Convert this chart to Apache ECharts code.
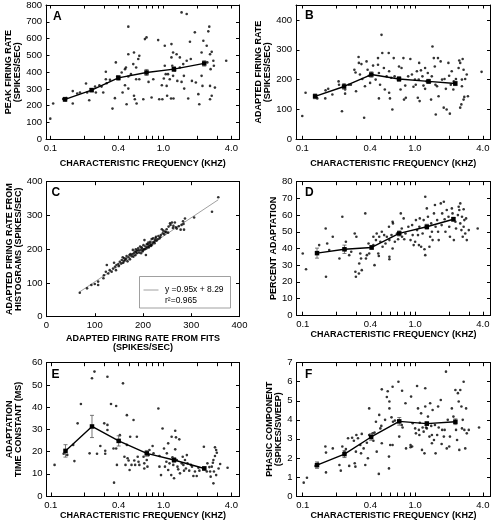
<!DOCTYPE html>
<html><head><meta charset="utf-8">
<script src="https://cdn.jsdelivr.net/npm/echarts@6/dist/echarts.min.js"></script>
<style>html,body{margin:0;padding:0;background:#fff}#chart{width:493px;height:523px}</style>
</head><body><div id="chart"></div>
<script>
// ---------- tick labels ----------
const freqTicks = [0.1,0.2,0.3,0.4,0.5,0.6,0.7,0.8,0.9,1,2,3,4];
const freqLabels = [0.1,0.4,1.0,4.0];
const ticksA = [0,100,200,300,400,500,600,700,800];
const ticksB = [0,100,200,300,400];
const ticksC = [0,100,200,300,400];
const ticksD = [0,10,20,30,40,50,60,70,80];
const ticksE = [0,10,20,30,40,50,60];
const ticksF = [0,1,2,3,4,5,6,7];

// ---------- data: [CF (kHz), value] ----------
const peakRate = [[0.100,123],[0.106,213],[0.130,240],[0.136,232],[0.139,245],[0.158,287],[0.158,213],[0.173,273],[0.183,279],[0.207,332],[0.212,279],[0.221,233],[0.232,289],[0.249,314],[0.253,279],[0.272,322],[0.284,314],[0.294,279],[0.310,402],[0.310,358],[0.315,334],[0.337,354],[0.355,183],[0.373,245],[0.380,458],[0.391,374],[0.405,370],[0.428,398],[0.436,279],[0.458,322],[0.458,418],[0.467,428],[0.473,209],[0.49,671],[0.49,507],[0.49,374],[0.49,302],[0.517,388],[0.542,448],[0.55,517],[0.55,259],[0.56,239],[0.575,428],[0.58,213],[0.575,358],[0.60,478],[0.613,497],[0.613,358],[0.665,239],[0.687,597],[0.71,607],[0.71,394],[0.74,342],[0.787,249],[0.815,358],[0.90,591],[0.92,239],[0.97,322],[0.98,239],[1.01,362],[1.03,557],[1.03,438],[1.05,388],[1.07,318],[1.08,259],[1.10,388],[1.14,358],[1.17,243],[1.18,567],[1.18,488],[1.2,438],[1.22,517],[1.22,378],[1.23,243],[1.27,408],[1.31,507],[1.33,348],[1.40,488],[1.40,428],[1.45,756],[1.45,342],[1.50,448],[1.52,378],[1.53,302],[1.61,746],[1.61,468],[1.66,243],[1.72,581],[1.75,478],[1.79,348],[1.90,637],[1.94,338],[2.04,269],[2.08,209],[2.18,517],[2.18,378],[2.22,318],[2.26,587],[2.28,454],[2.42,557],[2.45,458],[2.55,671],[2.5,643],[2.59,507],[2.62,418],[2.59,318],[2.59,239],[2.68,521],[2.68,259],[2.77,468],[2.8,438],[2.86,308],[3.6,468]];
const peakMeans = [[0.135,238,12],[0.232,293,10],[0.40,366,14],[0.71,398,18],[1.24,418,14],[2.3,452,16]];

const adaptRate = [[0.100,78],[0.107,156],[0.133,141],[0.136,137],[0.16,137],[0.161,164],[0.17,169],[0.185,150],[0.21,194],[0.212,183],[0.225,94],[0.235,183],[0.24,167],[0.24,153],[0.259,183],[0.27,183],[0.29,233],[0.297,224],[0.30,161],[0.316,276],[0.318,256],[0.325,217],[0.335,252],[0.341,202],[0.354,72],[0.36,178],[0.372,261],[0.38,233],[0.39,213],[0.40,189],[0.425,247],[0.448,200],[0.47,272],[0.47,250],[0.479,137],[0.479,222],[0.49,183],[0.505,350],[0.513,289],[0.53,239],[0.54,167],[0.56,211],[0.585,289],[0.59,228],[0.59,156],[0.60,137],[0.616,206],[0.63,100],[0.648,272],[0.66,211],[0.722,244],[0.745,167],[0.76,239],[0.79,272],[0.80,133],[0.82,180],[0.83,139],[0.87,211],[0.91,269],[0.94,217],[0.97,176],[1.0,200],[1.016,183],[1.04,228],[1.06,139],[1.08,200],[1.09,256],[1.10,128],[1.13,231],[1.165,211],[1.19,180],[1.23,239],[1.23,169],[1.27,194],[1.30,222],[1.36,191],[1.39,133],[1.41,211],[1.43,311],[1.47,272],[1.50,244],[1.52,183],[1.53,83],[1.57,178],[1.60,272],[1.62,144],[1.69,261],[1.74,200],[1.80,106],[1.83,202],[1.88,169],[1.91,100],[1.98,256],[2.01,213],[2.04,86],[2.08,183],[2.12,228],[2.19,167],[2.21,194],[2.31,202],[2.44,239],[2.47,264],[2.52,256],[2.52,106],[2.58,117],[2.61,200],[2.61,178],[2.65,269],[2.70,233],[2.70,133],[2.74,142],[2.79,202],[2.88,217],[2.95,144],[3.9,226]];
const adaptMeans = [[0.13,144,8],[0.235,177,9],[0.41,217,9],[0.722,202,8],[1.32,194,7],[2.28,187,7]];

// panel C: [from fits, from histograms]
const fitVsHist = [[69,71],[84,84],[93,94],[100,97],[107,94],[107,104],[118,114],[119,123],[123,133],[125,153],[128,128],[131,138],[135,133],[138,143],[140,160],[142,148],[144,138],[145,153],[149,156],[152,163],[156,168],[158,176],[159,160],[161,173],[163,168],[166,180],[170,176],[172,183],[173,170],[174,186],[176,180],[179,198],[180,178],[181,188],[183,193],[185,200],[187,188],[188,196],[190,203],[192,190],[194,208],[195,198],[197,206],[199,193],[201,212],[202,200],[203,227],[205,208],[206,183],[208,215],[209,206],[211,220],[213,209],[215,222],[216,212],[218,230],[220,220],[221,232],[223,222],[225,227],[227,237],[228,225],[232,239],[234,232],[237,242],[239,259],[241,247],[242,255],[246,252],[249,259],[253,267],[256,277],[257,272],[260,279],[263,269],[266,279],[268,265],[270,261],[280,272],[284,275],[285,258],[287,291],[306,294],[343,311],[356,354],[150,150],[155,158],[160,165],[165,172],[168,164],[178,185],[184,182],[186,192],[191,197],[196,188],[198,202],[200,196],[204,200],[207,202],[210,214],[212,205],[214,217],[217,210],[219,214],[224,218],[226,233],[230,229],[236,236],[244,244],[248,250],[252,249],[262,263],[274,268],[278,258],[283,283]];
const fitSlope = 0.95, fitIntercept = 8.29, fitRange = [68, 356];

const pctAdapt = [[0.1,37],[0.107,27.5],[0.14,42],[0.16,52],[0.161,23],[0.165,43],[0.172,39],[0.185,47],[0.212,34],[0.225,59],[0.24,39],[0.242,44],[0.259,36],[0.27,38],[0.29,49],[0.294,26],[0.297,23],[0.30,47],[0.316,25],[0.318,31],[0.325,37],[0.33,34],[0.335,27],[0.36,61],[0.365,34],[0.372,36],[0.385,43],[0.39,37],[0.425,47],[0.425,42],[0.435,30],[0.448,45],[0.455,49],[0.47,37],[0.475,35.5],[0.479,47],[0.49,44],[0.505,50],[0.513,41],[0.53,48],[0.545,43],[0.56,47],[0.585,53],[0.59,45],[0.59,35],[0.59,33.5],[0.616,48],[0.63,40],[0.63,56],[0.635,55],[0.66,44],[0.69,49],[0.705,45.5],[0.745,61],[0.76,52],[0.765,47],[0.79,58],[0.80,45.5],[0.82,49],[0.87,53],[0.91,45],[0.94,54],[0.95,48],[0.97,42],[1.0,44],[1.016,57],[1.04,51],[1.06,48],[1.08,42],[1.09,53],[1.10,58],[1.13,41],[1.165,49],[1.19,57],[1.21,39.5],[1.23,71],[1.23,36],[1.25,53],[1.27,64],[1.30,59],[1.34,41],[1.36,47],[1.39,55],[1.41,50],[1.43,45],[1.47,61],[1.50,66],[1.52,53],[1.57,57],[1.60,50],[1.62,45],[1.69,67],[1.72,54],[1.74,61],[1.80,68],[1.83,57.5],[1.86,50],[1.91,63],[1.98,59],[2.01,53],[2.04,47],[2.12,64],[2.15,61],[2.21,45],[2.28,56],[2.31,52],[2.40,60],[2.44,65],[2.47,63],[2.52,67],[2.52,55],[2.58,51],[2.61,59],[2.65,47],[2.70,53],[2.70,63.5],[2.74,57],[2.79,49],[2.84,58],[2.88,45],[3.0,51],[3.6,52]];
const pctMeans = [[0.134,37.2,3],[0.235,39.5,2.5],[0.41,40.6,1.2],[0.722,49,1.5],[1.27,53,1.5],[2.19,57.5,1.2]];

const tauAdapt = [[0.108,14],[0.13,19],[0.14,18.5],[0.158,23],[0.162,15.7],[0.173,32.7],[0.185,41.4],[0.221,19.2],[0.232,53],[0.244,56],[0.257,19],[0.275,22.5],[0.298,32.7],[0.304,20.4],[0.304,19],[0.318,32],[0.318,29.7],[0.318,53.7],[0.342,41.4],[0.36,21.4],[0.364,6],[0.38,21.4],[0.38,40.5],[0.386,14],[0.41,27.4],[0.437,50.7],[0.45,17.7],[0.46,14],[0.473,36.4],[0.473,23],[0.48,17],[0.49,16],[0.50,11.7],[0.506,26.7],[0.52,14],[0.542,34.2],[0.55,16],[0.56,14],[0.58,26.7],[0.59,17.7],[0.60,15.4],[0.61,14],[0.665,17.7],[0.675,14.7],[0.675,12.4],[0.71,16.2],[0.72,13.2],[0.74,18.4],[0.75,20.7],[0.80,22.5],[0.815,19.2],[0.90,39.4],[0.92,18],[0.92,13.2],[0.95,9.4],[0.98,30.4],[1.01,21.4],[1.03,13.2],[1.06,15.4],[1.07,19.2],[1.10,23.7],[1.10,11.7],[1.13,14.7],[1.17,9.4],[1.18,26.7],[1.20,17.4],[1.22,14],[1.24,8],[1.27,29.4],[1.27,21],[1.29,26.4],[1.31,16.2],[1.33,13.2],[1.35,12],[1.38,25.5],[1.40,10.2],[1.45,14.7],[1.48,17.7],[1.50,14],[1.52,11.4],[1.55,16.2],[1.58,12.4],[1.61,18.4],[1.63,14.7],[1.69,11.4],[1.75,14],[1.79,13.2],[1.84,9],[1.90,11],[1.97,9],[2.04,12.7],[2.08,11.4],[2.26,12.4],[2.28,22.2],[2.42,11],[2.45,14.7],[2.55,13],[2.59,11],[2.62,8.7],[2.68,13.2],[2.74,15],[2.77,16.2],[2.77,5.7],[2.80,11],[2.86,18],[2.86,21.9],[2.93,20.7],[2.93,9.4],[2.97,19.5],[3.08,12.4],[3.18,14.4],[3.7,12.7]];
const tauMeans = [[0.135,20.3,2.8],[0.232,31.3,5],[0.40,24.8,2.3],[0.71,19.2,1.3],[1.24,16.2,1],[2.3,12.4,0.8]];

const phasic = [[0.102,0.7],[0.109,0.96],[0.13,1.58],[0.137,1.7],[0.159,2.6],[0.161,2.28],[0.161,1.24],[0.185,2.5],[0.212,1.63],[0.218,1.33],[0.225,2.6],[0.235,2.33],[0.242,2.47],[0.253,3.03],[0.259,1.58],[0.275,3.06],[0.285,2.9],[0.29,1.72],[0.294,1.54],[0.297,2.33],[0.30,3.2],[0.31,3.03],[0.325,2.68],[0.33,2.24],[0.335,3.26],[0.348,2.5],[0.36,1.63],[0.372,2.8],[0.38,1.98],[0.39,4.6],[0.39,3.2],[0.418,3.29],[0.425,2.9],[0.435,3.33],[0.448,3.9],[0.455,2.33],[0.475,1.16],[0.479,4.26],[0.49,3.55],[0.50,3.68],[0.505,2.77],[0.505,5.6],[0.54,4.0],[0.56,5.2],[0.57,5.5],[0.585,2.07],[0.585,1.45],[0.59,4.96],[0.59,4.6],[0.60,2.68],[0.616,4.13],[0.63,5.74],[0.635,3.9],[0.63,2.68],[0.66,3.96],[0.71,6.0],[0.722,3.12],[0.76,3.73],[0.765,5.53],[0.773,3.6],[0.82,4.87],[0.83,2.5],[0.91,2.68],[0.91,2.56],[0.92,5.22],[0.94,2.6],[0.95,3.82],[1.0,3.55],[1.016,3.29],[1.04,5.78],[1.06,4.6],[1.08,3.47],[1.09,3.2],[1.10,3.85],[1.13,4.34],[1.15,2.42],[1.165,3.6],[1.19,3.38],[1.21,2.24],[1.23,5.66],[1.23,4.7],[1.25,3.6],[1.27,3.55],[1.30,4.17],[1.34,3.12],[1.36,4.87],[1.39,3.68],[1.41,2.77],[1.41,3.2],[1.43,4.52],[1.47,2.94],[1.50,3.73],[1.52,2.24],[1.57,3.2],[1.60,4.7],[1.62,3.6],[1.69,5.04],[1.72,2.73],[1.74,3.47],[1.80,3.12],[1.83,3.47],[1.88,6.53],[1.91,2.5],[1.95,4.0],[2.01,2.6],[2.04,3.12],[2.12,4.6],[2.19,4.17],[2.28,5.57],[2.31,3.47],[2.36,2.94],[2.40,5.4],[2.44,4.96],[2.47,2.42],[2.52,5.57],[2.58,4.7],[2.61,3.55],[2.65,4.0],[2.70,6.0],[2.74,3.47],[2.79,2.5],[2.84,4.6],[2.88,3.29],[3.0,3.47],[3.7,3.6]];
const phasicMeans = [[0.134,1.62,0.17],[0.235,2.2,0.18],[0.406,3.1,0.17],[0.722,3.92,0.2],[1.27,3.8,0.1],[2.28,3.9,0.15]];

// ---------- styling / layout ----------
const FONT = '"Liberation Sans", Arial, Helvetica, sans-serif';
const titleStyle = {fontSize:9, fontWeight:'bold', fontFamily:FONT, color:'#000', lineHeight:9};
const labelStyle = {fontSize:9.5, fontFamily:FONT, color:'#000'};
const CF_NAME = 'CHARACTERISTIC FREQUENCY (KHZ)';
const fmtFreq = v => Number(v).toFixed(1);

const panels = [
 {letter:'A', grid:{left:46, top:5, width:193.5, height:134.3}, xType:'log', xMin:0.0916, xMax:4.72, xTicks:freqTicks, xLabels:freqLabels, xFmt:fmtFreq,
  yMin:0, yMax:800, yTicks:ticksA, xName:CF_NAME, xGap:19.5, yName:'PEAK FIRING RATE\n(SPIKES/SEC)', yGap:23, points:peakRate, means:peakMeans, lx:53, ly:17.5},
 {letter:'B', grid:{left:296, top:5, width:194.5, height:134.3}, xType:'log', xMin:0.088, xMax:4.68, xTicks:freqTicks, xLabels:freqLabels, xFmt:fmtFreq,
  yMin:0, yMax:450, yTicks:ticksB, xName:CF_NAME, xGap:19.5, yName:'ADAPTED FIRING RATE\n(SPIKES/SEC)', yGap:18, points:adaptRate, means:adaptMeans, lx:305, ly:17},
 {letter:'C', grid:{left:46.5, top:181.7, width:193, height:135}, xType:'value', xMin:0, xMax:400, xTicks:ticksC, xLabels:ticksC, xFmt:null,
  yMin:0, yMax:400, yTicks:ticksC, xName:'ADAPTED FIRING RATE FROM FITS\n(SPIKES/SEC)', xGap:17, yName:'ADAPTED FIRING RATE FROM\nHISTOGRAMS (SPIKES/SEC)', yGap:23, points:fitVsHist, means:null, lx:51.5, ly:194},
 {letter:'D', grid:{left:296.5, top:181.7, width:194, height:133.5}, xType:'log', xMin:0.088, xMax:4.68, xTicks:freqTicks, xLabels:freqLabels, xFmt:fmtFreq,
  yMin:0, yMax:80, yTicks:ticksD, xName:CF_NAME, xGap:13.6, yName:'PERCENT ADAPTATION', yGap:17, points:pctAdapt, means:pctMeans, lx:305, ly:194},
 {letter:'E', grid:{left:46.5, top:362.7, width:193, height:133.3}, xType:'log', xMin:0.0916, xMax:4.72, xTicks:freqTicks, xLabels:freqLabels, xFmt:fmtFreq,
  yMin:0, yMax:60, yTicks:ticksE, xName:CF_NAME, xGap:14.5, yName:'ADAPTATION\nTIME CONSTANT (MS)', yGap:23, points:tauAdapt, means:tauMeans, lx:51.5, ly:375.5},
 {letter:'F', grid:{left:296.5, top:362.7, width:194, height:133.3}, xType:'log', xMin:0.088, xMax:4.68, xTicks:freqTicks, xLabels:freqLabels, xFmt:fmtFreq,
  yMin:0, yMax:7, yTicks:ticksF, xName:CF_NAME, xGap:14.5, yName:'PHASIC COMPONENT\n(SPIKES/SWEEP)', yGap:13.7, points:phasic, means:phasicMeans, lx:305, ly:375.5}
];

const axisLine = {show:true, onZero:false, lineStyle:{color:'#000', width:1}};
function tickCfg(values){ return {show:true, inside:true, length:3.5, customValues:values, lineStyle:{color:'#000', width:1}}; }

function errRender(params, api){
  const x = api.value(0), m = api.value(1), e = api.value(2);
  const t = api.coord([x, m + e]), b = api.coord([x, m - e]);
  const w = 2, st = {stroke:'#555', lineWidth:0.8};
  return {type:'group', children:[
    {type:'line', shape:{x1:t[0], y1:t[1], x2:b[0], y2:b[1]}, style:st},
    {type:'line', shape:{x1:t[0]-w, y1:t[1], x2:t[0]+w, y2:t[1]}, style:st},
    {type:'line', shape:{x1:b[0]-w, y1:b[1], x2:b[0]+w, y2:b[1]}, style:st}
  ]};
}

const xAxes = [], yAxes = [], series = [], graphics = [];
panels.forEach((p, i) => {
  const xc = {gridIndex:i, type:p.xType, min:p.xMin, max:p.xMax, splitLine:{show:false}, axisLine};
  if (p.xType === 'log') xc.logBase = 10;
  const xLab = {show:true, customValues:p.xLabels, margin:4, ...labelStyle};
  if (p.xFmt) xLab.formatter = p.xFmt;
  xAxes.push({...xc, position:'bottom', axisTick:tickCfg(p.xTicks), axisLabel:xLab,
    name:p.xName, nameLocation:'middle', nameGap:p.xGap, nameTextStyle:titleStyle});
  xAxes.push({...xc, position:'top', axisTick:tickCfg(p.xTicks), axisLabel:{show:false}});
  const yc = {gridIndex:i, type:'value', min:p.yMin, max:p.yMax, splitLine:{show:false}, axisLine};
  yAxes.push({...yc, position:'left', axisTick:tickCfg(p.yTicks), axisLabel:{show:true, customValues:p.yTicks, margin:4, ...labelStyle},
    name:p.yName, nameLocation:'middle', nameGap:p.yGap, nameRotate:90, nameTextStyle:titleStyle});
  yAxes.push({...yc, position:'right', axisTick:tickCfg(p.yTicks), axisLabel:{show:false}});

  series.push({type:'scatter', xAxisIndex:2*i, yAxisIndex:2*i, data:p.points, symbol:'circle', symbolSize:2.6,
    itemStyle:{color:'#000'}, silent:true, z:2});
  if (p.means) {
    series.push({type:'custom', xAxisIndex:2*i, yAxisIndex:2*i, data:p.means, encode:{x:0, y:1}, renderItem:errRender, silent:true, z:3});
    series.push({type:'line', xAxisIndex:2*i, yAxisIndex:2*i, data:p.means.map(d => [d[0], d[1]]), symbol:'rect', symbolSize:4.5,
      showSymbol:true, lineStyle:{color:'#000', width:1.4}, itemStyle:{color:'#000'}, silent:true, z:4});
  }
  graphics.push({type:'text', left:p.lx, top:p.ly - 7, style:{text:p.letter, font:'bold 12px ' + FONT, fill:'#000'}, silent:true});
});

// regression line for panel C
series.push({type:'line', xAxisIndex:4, yAxisIndex:4, data:fitRange.map(x => [x, fitSlope * x + fitIntercept]), symbol:'none',
  lineStyle:{color:'#888', width:0.8}, silent:true, z:1});

// legend box for panel C
graphics.push(
  {type:'rect', shape:{x:139.5, y:276.5, width:91, height:31.5}, style:{fill:'#fff', stroke:'#888', lineWidth:0.8}, z:10, silent:true},
  {type:'line', shape:{x1:143.5, y1:290, x2:158.5, y2:290}, style:{stroke:'#888', lineWidth:0.8}, z:11, silent:true},
  {type:'text', x:165, y:290, style:{text:'y =' + fitSlope.toFixed(2) + 'x + ' + fitIntercept.toFixed(2), font:'8.5px ' + FONT, fill:'#000', textVerticalAlign:'middle', verticalAlign:'middle'}, z:11, silent:true},
  {type:'text', x:165, y:300.5, style:{text:'r\u00B2=0.965', font:'8.5px ' + FONT, fill:'#000', textVerticalAlign:'middle', verticalAlign:'middle'}, z:11, silent:true}
);

const chart = echarts.init(document.getElementById('chart'), null, {renderer:'canvas'});
chart.setOption({
  animation:false,
  backgroundColor:'#fff',
  grid: panels.map(p => ({...p.grid, containLabel:false, outerBoundsMode:'none'})),
  xAxis: xAxes, yAxis: yAxes, series, graphic: graphics
});
</script></body></html>
